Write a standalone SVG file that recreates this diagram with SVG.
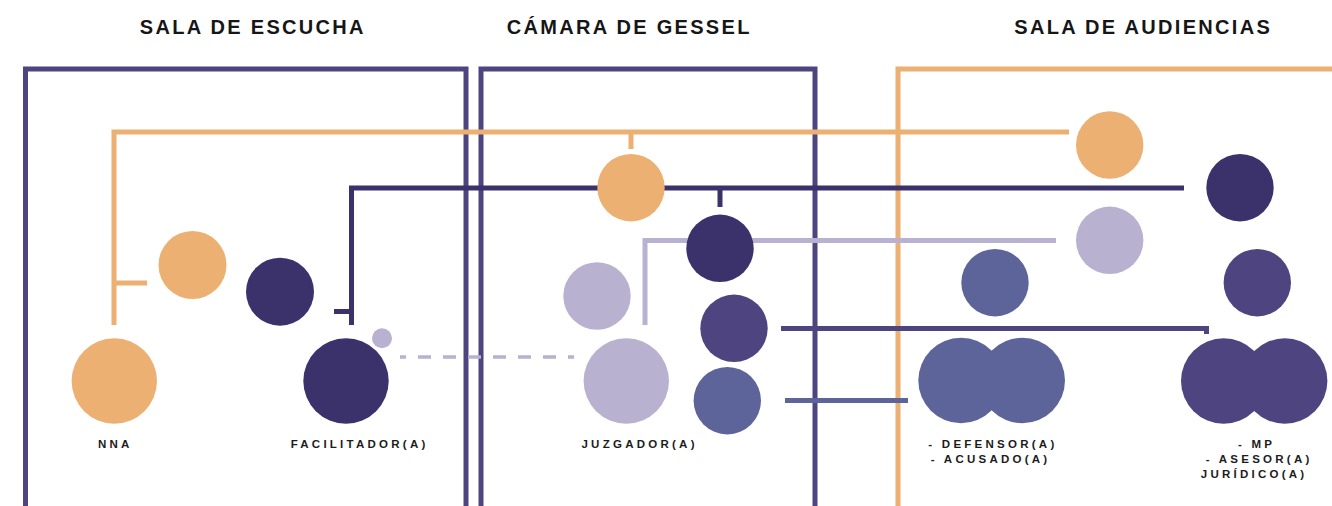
<svg xmlns="http://www.w3.org/2000/svg" width="1332" height="506" viewBox="0 0 1332 506">
<style>
.title{font-family:"Liberation Sans",Arial,sans-serif;font-weight:bold;font-size:20px;letter-spacing:2.3px;fill:#161616;text-anchor:middle}
.lbl{font-family:"Liberation Sans",Arial,sans-serif;font-weight:bold;font-size:11.5px;letter-spacing:3.25px;fill:#1c1c1c;text-anchor:middle}
.ln{fill:none;stroke-width:5;stroke-linecap:butt;stroke-linejoin:miter}
.frame{stroke:#4e4580}
.or{stroke:#ecb073}
.dk{stroke:#3b316b}
.lv{stroke:#b8b1d0}
.pu{stroke:#4e4480}
.sl{stroke:#5c6499}
.c-or{fill:#ecb073}
.c-dk{fill:#3b316b}
.c-lv{fill:#b8b1d0}
.c-pu{fill:#4e4480}
.c-sl{fill:#5c6499}
</style>
<rect width="1332" height="506" fill="#ffffff"/>
<g id="titles">
<text class="title" x="252.8" y="34">SALA DE ESCUCHA</text>
<text class="title" x="629.2" y="34">CÁMARA DE GESSEL</text>
<text class="title" x="1143.2" y="34">SALA DE AUDIENCIAS</text>
</g>
<g id="rooms">
<path class="ln frame" d="M25.5 512 V69 H466 V512"/>
<path class="ln frame" d="M481 512 V69 H815 V512"/>
<path class="ln or" d="M898 512 V69 H1340"/>
</g>
<g id="connectors">
<path class="ln or" d="M114 325 V132 H1069"/>
<path class="ln or" d="M114 283 H147"/>
<path class="ln or" d="M631 132 V149"/>
<path class="ln dk" d="M351.5 325 V188 H1184"/>
<path class="ln dk" d="M334 311.5 H351.5"/>
<path class="ln dk" d="M720 188 V207"/>
<path class="ln lv" d="M645 325 V240.5 H1056"/>
<path class="ln pu" d="M781 328.5 H1206.5 V334"/>
<path class="ln sl" d="M785 400.5 H908"/>
<line x1="400" y1="357" x2="574" y2="357" stroke="#b8b1d0" stroke-width="3.3" stroke-dasharray="13 12" stroke-dashoffset="7"/>
</g>
<g id="node-nna">
<circle class="c-or" cx="192.5" cy="265" r="34"/>
<circle class="c-or" cx="114.3" cy="381" r="42.7"/>
<text class="lbl" x="115.3" y="448">NNA</text>
</g>
<g id="node-facilitador">
<circle class="c-dk" cx="280" cy="291.7" r="34"/>
<circle class="c-dk" cx="346" cy="381" r="42.7"/>
<circle class="c-lv" cx="382" cy="338.3" r="10"/>
<text class="lbl" x="359.6" y="448">FACILITADOR(A)</text>
</g>
<g id="node-juzgador">
<circle class="c-or" cx="631" cy="187.7" r="33.7"/>
<circle class="c-dk" cx="720" cy="248.3" r="33.7"/>
<circle class="c-lv" cx="597" cy="296" r="33.7"/>
<circle class="c-pu" cx="734" cy="328.3" r="33.7"/>
<circle class="c-sl" cx="727.3" cy="400.7" r="33.7"/>
<circle class="c-lv" cx="626.3" cy="381" r="42.7"/>
<text class="lbl" x="639.6" y="448">JUZGADOR(A)</text>
</g>
<g id="node-defensor">
<circle class="c-or" cx="1109.7" cy="145" r="33.7"/>
<circle class="c-lv" cx="1109.7" cy="240.3" r="33.7"/>
<circle class="c-sl" cx="995" cy="282.7" r="33.7"/>
<circle class="c-sl" cx="961" cy="380.5" r="42.7"/>
<circle class="c-sl" cx="1022.3" cy="380.5" r="42.7"/>
<text class="lbl" x="992.9" y="447.7">- DEFENSOR(A)</text>
<text class="lbl" x="990.6" y="462.7">- ACUSADO(A)</text>
</g>
<g id="node-mp">
<circle class="c-dk" cx="1240" cy="187.7" r="33.7"/>
<circle class="c-pu" cx="1257.3" cy="282.7" r="33.7"/>
<circle class="c-pu" cx="1223.7" cy="381" r="42.7"/>
<circle class="c-pu" cx="1284.7" cy="381" r="42.7"/>
<text class="lbl" x="1256.6" y="447.7">- MP</text>
<text class="lbl" x="1259.1" y="462.7">- ASESOR(A)</text>
<text class="lbl" x="1254.1" y="478.3">JURÍDICO(A)</text>
</g>
</svg>
